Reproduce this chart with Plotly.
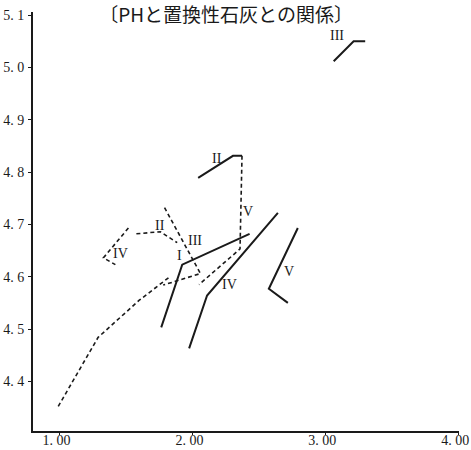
import plotly.graph_objects as go

# ---- data: x = 置換性石灰, y = PH ----
# solid lines
solid_I_x = [1.765, 1.923, 2.43]
solid_I_y = [4.503, 4.623, 4.682]
solid_II_x = [2.043, 2.305, 2.373]
solid_II_y = [4.789, 4.831, 4.831]
solid_III_x = [3.063, 3.213, 3.30]
solid_III_y = [5.012, 5.050, 5.050]
solid_IV_x = [1.975, 2.11, 2.643]
solid_IV_y = [4.463, 4.564, 4.722]
solid_V_x = [2.793, 2.575, 2.718]
solid_V_y = [4.693, 4.577, 4.550]

# dashed lines
dashed_I_x = [0.99, 1.29, 1.60, 1.83]
dashed_I_y = [4.352, 4.484, 4.555, 4.600]
dashed_II_x = [1.578, 1.758, 1.885]
dashed_II_y = [4.682, 4.686, 4.665]
dashed_III_x = [1.79, 2.06, 1.78]
dashed_III_y = [4.732, 4.606, 4.584]
dashed_IV_x = [1.518, 1.33, 1.42]
dashed_IV_y = [4.693, 4.636, 4.623]
dashed_V_x = [2.373, 2.358, 2.05]
dashed_V_y = [4.831, 4.653, 4.585]

# labels
label_text = ["I", "II", "III", "IV", "V", "II", "III", "IV", "V"]
label_x = [1.90, 2.185, 3.085, 2.28, 2.725, 1.758, 2.02, 1.458, 2.42]
label_y = [4.640, 4.826, 5.062, 4.585, 4.610, 4.697, 4.669, 4.644, 4.724]

x_ticks = [1.0, 2.0, 3.0, 4.0]
x_ticktext = ["1. 00", "2. 00", "3. 00", "4. 00"]
y_ticks = [4.4, 4.5, 4.6, 4.7, 4.8, 4.9, 5.0, 5.1]
y_ticktext = ["4. 4", "4. 5", "4. 6", "4. 7", "4. 8", "4. 9", "5. 0", "5. 1"]

title_text = "〔PHと置換性石灰との関係〕"

INK = "#1a1a1a"
fig = go.Figure()

solids = [(solid_I_x, solid_I_y), (solid_II_x, solid_II_y), (solid_III_x, solid_III_y),
          (solid_IV_x, solid_IV_y), (solid_V_x, solid_V_y)]
dashes = [(dashed_I_x, dashed_I_y), (dashed_II_x, dashed_II_y), (dashed_III_x, dashed_III_y),
          (dashed_IV_x, dashed_IV_y), (dashed_V_x, dashed_V_y)]

for xs, ys in solids:
    fig.add_trace(go.Scatter(x=xs, y=ys, mode="lines",
                             line=dict(color=INK, width=2), showlegend=False,
                             hoverinfo="skip"))
for xs, ys in dashes:
    fig.add_trace(go.Scatter(x=xs, y=ys, mode="lines",
                             line=dict(color=INK, width=1.6, dash="4px,3px"),
                             showlegend=False, hoverinfo="skip"))

for t, lx, ly in zip(label_text, label_x, label_y):
    fig.add_annotation(x=lx, y=ly, text=t, showarrow=False,
                       font=dict(family="Liberation Serif, DejaVu Serif, serif",
                                 size=14, color=INK))

fig.update_layout(
    width=471, height=450,
    margin=dict(l=33, r=12, t=12, b=19),
    paper_bgcolor="white", plot_bgcolor="white",
    title=dict(text=title_text, x=0.48, xanchor="center", y=0.966, yanchor="middle",
               font=dict(family="Noto Sans CJK JP", size=19, color=INK)),
    font=dict(family="Liberation Serif, DejaVu Serif, serif", size=14, color=INK),
)
fig.update_xaxes(range=[0.8, 4.006], tickvals=x_ticks, ticktext=x_ticktext,
                 showgrid=False, zeroline=False, showline=True, linecolor=INK,
                 linewidth=2, ticks="outside", ticklen=2, tickcolor=INK,
                 automargin=False, tickfont=dict(size=14), ticklabelstandoff=-7,
                 ticklabelshift=-3, ticklabeloverflow="allow")
fig.update_yaxes(range=[4.305, 5.106], tickvals=y_ticks, ticktext=y_ticktext,
                 showgrid=False, zeroline=False, showline=True, linecolor=INK,
                 linewidth=2, ticks="outside", ticklen=3, tickcolor=INK,
                 automargin=False, ticklabelstandoff=1, ticklabeloverflow="allow")

fig.write_html("out.html", config={"displayModeBar": False},
               post_script="document.body.style.margin='0';")
